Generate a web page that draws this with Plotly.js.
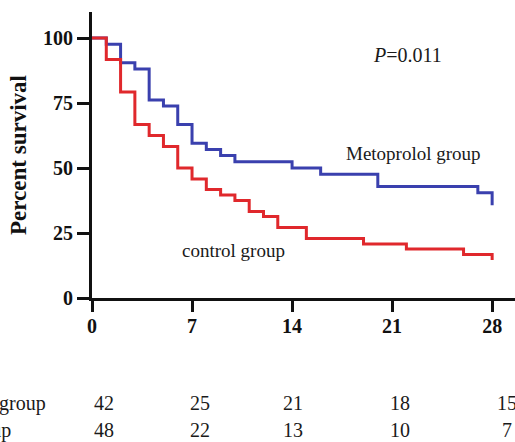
<!DOCTYPE html>
<html>
<head>
<meta charset="utf-8">
<script src="https://cdn.plot.ly/plotly-3.0.1.min.js"></script>
<style>html,body{margin:0;padding:0;background:#fff;}#chart{width:515px;height:442px;}</style>
</head>
<body>
<div id="chart"></div>
<script>
// Kaplan-Meier data (days, percent survival)
var metoDays = [0, 1, 2, 3, 4, 5, 6, 7, 8, 9, 10, 14, 16, 20, 27, 28];
var metoSurv = [100, 97.6, 90.5, 88.1, 76.2, 73.8, 66.7, 59.5, 57.1, 54.8, 52.4, 50.0, 47.6, 42.9, 40.5, 35.7];
var ctrlDays = [0, 1, 2, 3, 4, 5, 6, 7, 8, 9, 10, 11, 12, 13, 15, 19, 22, 26, 28];
var ctrlSurv = [100, 91.7, 79.2, 66.7, 62.5, 58.3, 50.0, 45.8, 41.7, 39.6, 37.5, 33.3, 31.3, 27.1, 22.9, 20.8, 18.8, 16.7, 14.6];

// Number at risk table
var riskDays = [0, 7, 14, 21, 28];
var riskMeto = [42, 25, 21, 18, 15];
var riskCtrl = [48, 22, 13, 10, 7];
var rowLabels = ["Metoprolol group", "control group"];

var xTicks = [0, 7, 14, 21, 28];
var yTicks = [0, 25, 50, 75, 100];

var serif = '"Liberation Serif", "Times New Roman", serif';

var traces = [
  {x: metoDays, y: metoSurv, type: 'scatter', mode: 'lines', name: rowLabels[0],
   line: {shape: 'hv', color: '#3a40ae', width: 3}},
  {x: ctrlDays, y: ctrlSurv, type: 'scatter', mode: 'lines', name: rowLabels[1],
   line: {shape: 'hv', color: '#e0282c', width: 3}}
];

var annotations = [
  {x: 22.1, y: 93.3, xref: 'x', yref: 'y', text: '<i>P</i>=0.011', showarrow: false,
   font: {family: serif, size: 20, color: '#1a1a1a'}},
  {x: 22.5, y: 55.6, xref: 'x', yref: 'y', text: 'Metoprolol group', showarrow: false,
   font: {family: serif, size: 19, color: '#1a1a1a'}},
  {x: 9.9, y: 18.4, xref: 'x', yref: 'y', text: 'control group', showarrow: false,
   font: {family: serif, size: 19, color: '#1a1a1a'}}
];

var colShift = [11.6, 7.7, 1.3, 7.7, 15];
var rowY = [-0.368, -0.463];
var rowLabelShift = [-44, -79];
[riskMeto, riskCtrl].forEach(function (row, r) {
  row.forEach(function (v, i) {
    annotations.push({x: riskDays[i], y: rowY[r], xref: 'x', yref: 'paper', xshift: colShift[i],
      text: String(v), showarrow: false, yanchor: 'middle',
      font: {family: serif, size: 20, color: '#1a1a1a'}});
  });
  annotations.push({x: 0, y: rowY[r], xref: 'paper', yref: 'paper', xanchor: 'right', xshift: rowLabelShift[r],
    text: rowLabels[r], showarrow: false, yanchor: 'middle',
    font: {family: serif, size: 20, color: '#1a1a1a'}});
});

var layout = {
  width: 515, height: 442,
  margin: {l: 92, r: 0, t: 12, b: 144},
  paper_bgcolor: '#fff', plot_bgcolor: '#fff',
  showlegend: false,
  xaxis: {
    range: [0, 29.6], tickvals: xTicks, ticktext: xTicks.map(String),
    showgrid: false, zeroline: false, showline: true, linecolor: '#111', linewidth: 3,
    ticks: 'outside', ticklen: 11, tickwidth: 3, tickcolor: '#111',
    ticklabelstandoff: -3,
    tickfont: {family: serif, size: 20, color: '#111', weight: 'bold'}
  },
  yaxis: {
    range: [0, 110], tickvals: yTicks, ticktext: yTicks.map(String),
    showgrid: false, zeroline: false, showline: true, linecolor: '#111', linewidth: 3,
    ticks: 'outside', ticklen: 12, tickwidth: 3, tickcolor: '#111',
    tickfont: {family: serif, size: 20, color: '#111', weight: 'bold'},
    title: {text: 'Percent survival', font: {family: serif, size: 23, color: '#111', weight: 'bold'}, standoff: 10}
  },
  annotations: annotations
};

Plotly.newPlot('chart', traces, layout, {displayModeBar: false, staticPlot: true});
</script>
</body>
</html>
